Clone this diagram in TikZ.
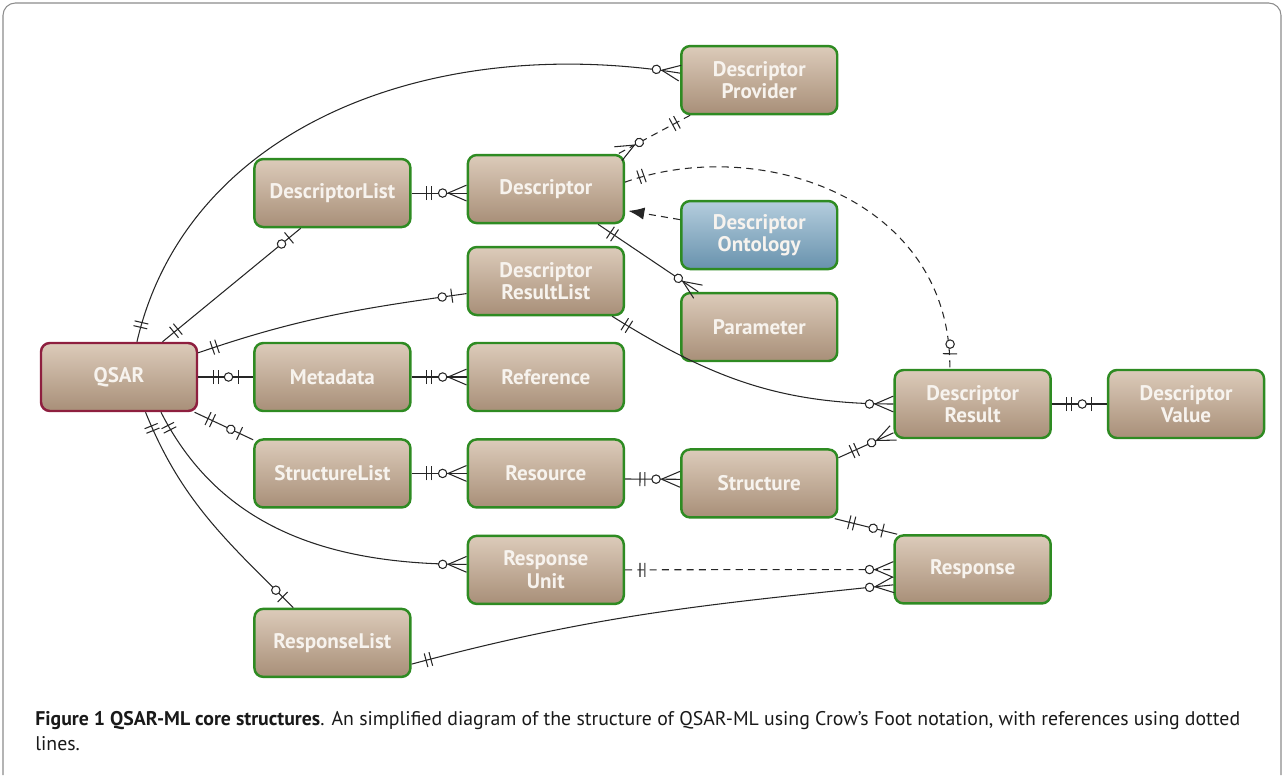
\documentclass[tikz,border=0pt]{standalone}
\usepackage{fontspec}
\setmainfont{PT Sans}
\usepackage{xcolor}
\usepackage{tikz}
\usetikzlibrary{arrows.meta, positioning, decorations.markings}

\definecolor{tanTop}{HTML}{DCCBBA}
\definecolor{tanBot}{HTML}{A88F78}
\definecolor{boxGreen}{HTML}{2E8B22}
\definecolor{qsarRed}{HTML}{8E1F3F}
\definecolor{blueTop}{HTML}{B4CDDD}
\definecolor{blueBot}{HTML}{6892AD}
\definecolor{txtWhite}{HTML}{F7F3EE}

% crow's foot ends, drawn with the entity at x=0
\newcommand{\markone}{\draw[solid] (-8.5pt,-4pt) -- (-8.5pt,4pt) (-11.3pt,-4pt) -- (-11.3pt,4pt);}
\newcommand{\markopt}{\draw[solid] (-8.5pt,-4pt) -- (-8.5pt,4pt); \draw[solid,fill=white] (-14pt,0) circle (2.4pt);}
\newcommand{\markmany}{\draw[solid] (-10.5pt,0) -- (0,4.5pt) (-10.5pt,0) -- (0,-4.5pt); \draw[solid,fill=white] (-13.6pt,0) circle (2.4pt);}

\begin{document}
\begin{tikzpicture}[x=0.02cm, y=-0.02cm, node distance=1.1cm]
    \tikzstyle{entity} = [rectangle, rounded corners=5pt, draw=boxGreen, line width=1.4pt, top color=tanTop, bottom color=tanBot, minimum width=3.12cm, minimum height=1.36cm, text=txtWhite, font=\bfseries\fontsize{12}{12.8}\selectfont, align=center, inner sep=2pt]
    \tikzstyle{root} = [entity, draw=qsarRed]
    \tikzstyle{onto} = [entity, top color=blueTop, bottom color=blueBot]
    \tikzstyle{link} = [draw=black!85, line width=0.6pt]
    \tikzstyle{ref} = [link, dash pattern=on 4pt off 3pt]
    \tikzstyle{oneOpt} = [postaction={decorate, decoration={markings,
        mark=at position 0 with {\begin{scope}[xscale=-1]\markone\end{scope}},
        mark=at position -0.05pt with {\markopt}}}]
    \tikzstyle{oneMany} = [postaction={decorate, decoration={markings,
        mark=at position 0 with {\begin{scope}[xscale=-1]\markone\end{scope}},
        mark=at position -0.05pt with {\markmany}}}]

    \useasboundingbox (0,0) rectangle (1284,775);
    \draw[black!45, line width=0.6pt, rounded corners=7pt] (3,775) -- (3,3) -- (1281,3) -- (1281,775);

    \node [root] (qsar) at (119,377) {QSAR};
    \node [entity, right=of qsar] (meta) {Metadata};
    \node [entity, right=of meta] (ref) {Reference};
    \node [entity, right=of qsar, yshift=3.68cm] (dlist) {DescriptorList};
    \node [entity, right=of dlist, yshift=0.08cm] (desc) {Descriptor};
    \node [entity, right=of desc, yshift=2.18cm] (dprov) {Descriptor\\Provider};
    \node [onto, right=of desc, yshift=-0.92cm] (donto) {Descriptor\\Ontology};
    \node [entity, right=of meta, yshift=1.92cm] (drl) {Descriptor\\ResultList};
    \node [entity, right=of ref, yshift=1.0cm] (param) {Parameter};
    \node [entity, right=of param, yshift=-1.54cm] (dres) {Descriptor\\Result};
    \node [entity, right=of dres] (dval) {Descriptor\\Value};
    \node [entity, below=0.52cm of meta] (slist) {StructureList};
    \node [entity, right=of slist] (res) {Resource};
    \node [entity, right=of res, yshift=-0.2cm] (struct) {Structure};
    \node [entity, right=of struct, yshift=-1.72cm] (resp) {Response};
    \node [entity, below=0.52cm of res] (runit) {Response\\Unit};
    \node [entity, below=1.98cm of slist] (rlist) {ResponseList};

    \draw [link, oneMany] (qsar.63) .. controls +(50,-215) and +(-250,-40) .. (dprov.175);
    \draw [link, oneOpt] (qsar.39) -- (dlist.228);
    \draw [link, oneMany] (dlist.east) -- (dlist.east -| desc.west);
    \draw [ref, oneMany] (dprov.207) -- (desc.26);
    \draw [ref, oneOpt] (desc.5) .. controls +(136,-48) and +(2,-169) .. (dres.123);
    \draw [ref, -{Latex[length=9pt,width=7pt]}, shorten >=2pt] (donto.169) -- (desc.-15);
    \draw [link, oneMany] (desc.-34) -- (param.150);
    \draw [link, oneOpt] (qsar.17) to[out=19, in=188] (drl.189);
    \draw [link, oneOpt] (qsar) -- (meta);
    \draw [link, oneMany] (meta) -- (ref);
    \draw [link, oneOpt] (qsar.-25) -- (slist.157);
    \draw [link, oneMany] (drl.-28) to[out=-32, in=180] (dres.west);
    \draw [link, oneOpt] (dres) -- (dval);
    \draw [link, oneMany] (slist) -- (res);
    \draw [link, oneMany] (res.-4) -- (struct.177);
    \draw [link, oneMany] (struct.18) -- (dres.200);
    \draw [link, oneOpt] (struct.-25) -- (resp.155);
    \draw [link, oneMany] (qsar.-40) to[out=-63, in=180] (runit.176);
    \draw [link, oneOpt] (qsar.-53) to[out=-68, in=135] (rlist.138);
    \draw [ref, oneMany] (runit) -- (resp);
    \draw [link, oneMany] (rlist.-15) to[out=15, in=186] (resp.191);

    \node [anchor=north west, inner sep=0pt, text=black!90] (caption) at (35,707) {\resizebox{24.1cm}{!}{\fontsize{10.5}{13.5}\selectfont\begin{tabular}{@{}l@{}}\textbf{Figure 1 QSAR-ML core structures}. An simplified diagram of the structure of QSAR-ML using Crow's Foot notation, with references using dotted\\lines.\end{tabular}}};
\end{tikzpicture}
\end{document}
